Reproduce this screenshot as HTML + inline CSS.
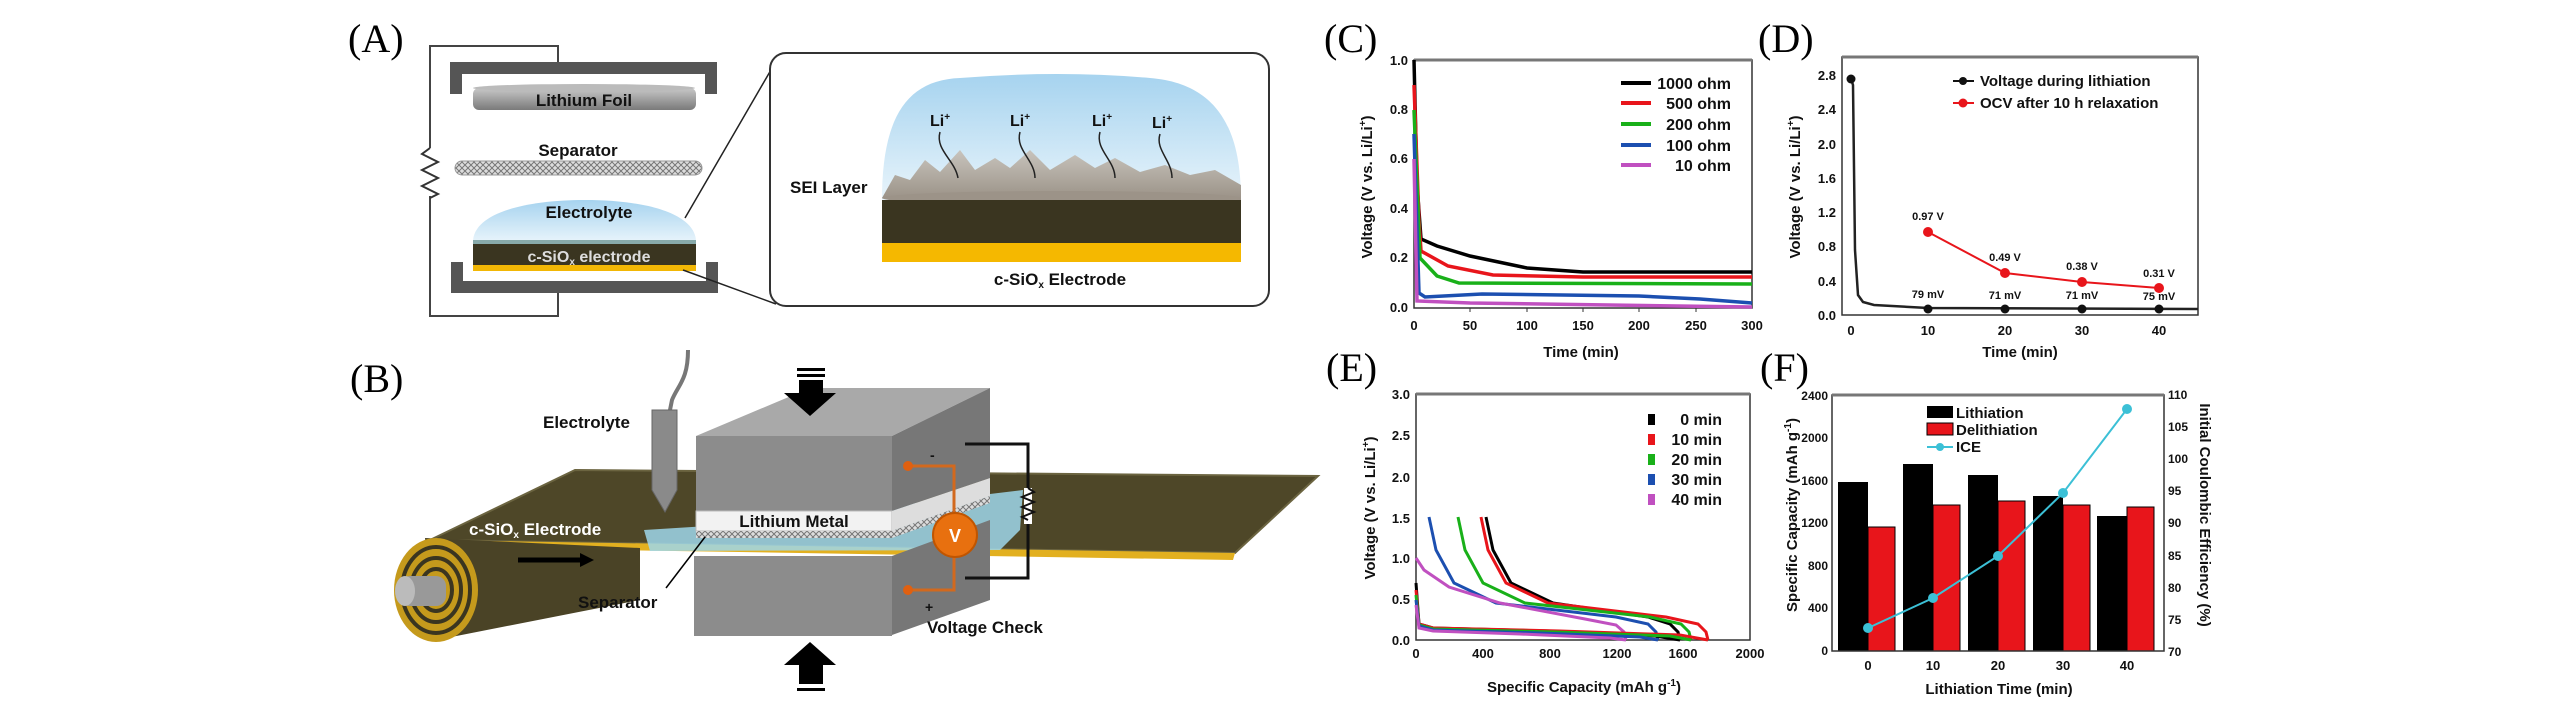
<!DOCTYPE html>
<html><head><meta charset="utf-8"><style>
html,body{margin:0;padding:0;background:#fff;}
svg{display:block;}
.s{font-family:"Liberation Sans Narrow","Liberation Sans",sans-serif;font-weight:bold;}
.p{font-family:"Liberation Serif",serif;font-size:40px;}
</style></head><body>
<svg width="2567" height="709" viewBox="0 0 2567 709" xmlns="http://www.w3.org/2000/svg">
<defs>
<linearGradient id="sky" x1="0" y1="0" x2="0" y2="1"><stop offset="0" stop-color="#a6d3ef"/><stop offset="1" stop-color="#e8f4fb"/></linearGradient>
<linearGradient id="foil" x1="0" y1="0" x2="0" y2="1"><stop offset="0" stop-color="#c8c8c8"/><stop offset="1" stop-color="#7a7a7a"/></linearGradient>
<linearGradient id="sei" x1="0" y1="0" x2="0" y2="1"><stop offset="0" stop-color="#c8c4bd"/><stop offset="1" stop-color="#9a9186"/></linearGradient>
<pattern id="mesh" width="6" height="6" patternUnits="userSpaceOnUse"><rect width="6" height="6" fill="#ddd"/><path d="M0,6 L6,0 M0,0 L6,6" stroke="#777" stroke-width="1"/></pattern>
</defs>

<!-- ===== Panel A ===== -->
<text class="p" x="348" y="52">(A)</text>
<path d="M558,62 V46 H430 V316 H558 V293" fill="none" stroke="#444" stroke-width="2"/>
<rect x="428" y="148" width="6" height="48" fill="#fff"/>
<path d="M430,148 l-8,6 l16,8 l-16,8 l16,8 l-16,8 l16,8 l-8,4" fill="none" stroke="#333" stroke-width="2"/>
<path d="M450,62 H717 V94 H705 V74 H462 V94 H450 Z" fill="#555"/>
<path d="M451,293 H718 V262 H706 V281 H463 V262 H451 Z" fill="#555"/>
<rect x="473" y="88" width="223" height="22" rx="6" fill="url(#foil)"/>
<ellipse cx="584" cy="88" rx="111" ry="4" fill="#bbb"/>
<text class="s" x="584" y="106" font-size="17" text-anchor="middle" fill="#111">Lithium Foil</text>
<text class="s" x="578" y="156" font-size="17" text-anchor="middle" fill="#111">Separator</text>
<rect x="455" y="161" width="247" height="14" rx="7" fill="url(#mesh)" stroke="#999"/>
<path d="M473,242 C473,215 520,200 585,200 C650,200 696,215 696,242 Z" fill="url(#sky)"/>
<text class="s" x="589" y="218" font-size="17" text-anchor="middle" fill="#111">Electrolyte</text>
<rect x="473" y="240" width="223" height="4" fill="#8aa"/>
<rect x="473" y="244" width="223" height="22" fill="#3a3520"/>
<rect x="473" y="265" width="223" height="6" fill="#f2b705"/>
<text class="s" x="589" y="262" font-size="16" text-anchor="middle" fill="#ddd">c-SiO<tspan font-size="10" dy="3">x</tspan><tspan dy="-3"> electrode</tspan></text>
<line x1="685" y1="218" x2="775" y2="63" stroke="#222" stroke-width="1.5"/>
<line x1="683" y1="270" x2="776" y2="304" stroke="#222" stroke-width="1.5"/>
<rect x="770" y="53" width="499" height="253" rx="16" fill="#fff" stroke="#333" stroke-width="2"/>
<path d="M882,200 C882,120 905,80 960,78 Q1060,70 1150,78 C1225,84 1241,140 1241,200 Z" fill="url(#sky)"/>
<path d="M882,198 L895,175 L910,180 L925,160 L940,172 L960,150 L975,170 L995,158 L1010,168 L1030,150 L1050,170 L1075,155 L1095,168 L1115,158 L1140,172 L1165,165 L1190,175 L1215,170 L1241,185 L1241,200 Z" fill="url(#sei)"/>
<ellipse cx="1061" cy="198" rx="179" ry="7" fill="#9c9388"/>
<rect x="882" y="200" width="359" height="43" fill="#3a3520"/>
<rect x="882" y="243" width="359" height="19" fill="#f5b800"/>
<text class="s" x="790" y="193" font-size="17" fill="#111">SEI Layer</text>
<g class="s" font-size="16" fill="#111"><text x="930" y="126">Li<tspan font-size="10" dy="-6">+</tspan></text><text x="1010" y="126">Li<tspan font-size="10" dy="-6">+</tspan></text><text x="1092" y="126">Li<tspan font-size="10" dy="-6">+</tspan></text><text x="1152" y="128">Li<tspan font-size="10" dy="-6">+</tspan></text></g>
<g fill="none" stroke="#222" stroke-width="1.5"><path d="M940,132 C935,150 955,160 958,178"/><path d="M1020,132 C1015,150 1035,160 1035,178"/><path d="M1100,132 C1095,150 1115,160 1115,178"/><path d="M1160,134 C1155,150 1172,160 1172,178"/></g>
<text class="s" x="1060" y="285" font-size="17" text-anchor="middle" fill="#111">c-SiO<tspan font-size="10" dy="3">x</tspan><tspan dy="-3"> Electrode</tspan></text>

<!-- ===== Panel B ===== -->
<text class="p" x="350" y="392">(B)</text>
<polygon points="575,470 1318,476 1235,553 430,540" fill="#4e4728" stroke="#6b6440" stroke-width="2"/>
<polygon points="430,540 1235,553 1233,560 428,547" fill="#e2b020"/>
<!-- roll -->
<polygon points="425,538 640,548 640,600 436,640" fill="#4a4326"/>
<ellipse cx="436" cy="590" rx="42" ry="52" fill="#c59a1c"/>
<ellipse cx="436" cy="590" rx="34" ry="43" fill="none" stroke="#3a3520" stroke-width="4"/>
<ellipse cx="436" cy="590" rx="25" ry="32" fill="none" stroke="#3a3520" stroke-width="4"/>
<ellipse cx="436" cy="590" rx="16" ry="21" fill="none" stroke="#3a3520" stroke-width="4"/>
<rect x="400" y="576" width="46" height="30" rx="10" fill="#999"/>
<ellipse cx="405" cy="591" rx="10" ry="15" fill="#bbb"/>
<path d="M518,560 H582" stroke="#000" stroke-width="5"/><polygon points="580,553 594,560 580,567" fill="#000"/>
<text class="s" x="469" y="535" font-size="17" fill="#fff">c-SiO<tspan font-size="10" dy="3">x</tspan><tspan dy="-3"> Electrode</tspan></text>
<!-- electrolyte film -->
<polygon points="644,530 740,524 1023,490 1020,530 1000,550 650,551" fill="#9fd7ea" opacity="0.85"/>
<!-- pipette -->
<path d="M688,350 C688,380 678,385 672,400 L670,410" fill="none" stroke="#777" stroke-width="4"/>
<path d="M652,410 H677 V490 L665,512 L652,490 Z" fill="#8a8a8a" stroke="#666"/>
<text class="s" x="543" y="428" font-size="17" fill="#111">Electrolyte</text>
<!-- blocks -->
<polygon points="696,436 810,388 990,388 892,436" fill="#a9a9a9"/>
<polygon points="892,436 990,388 990,478 892,511" fill="#777"/>
<rect x="696" y="436" width="196" height="75" fill="#8c8c8c"/>
<rect x="696" y="511" width="196" height="20" fill="#f2f2f2" stroke="#bbb"/>
<polygon points="892,511 990,478 990,496 892,531" fill="#ddd"/>
<rect x="696" y="531" width="196" height="7" fill="url(#mesh)"/>
<polygon points="892,531 990,496 990,503 892,538" fill="url(#mesh)"/>
<text class="s" x="794" y="527" font-size="17" text-anchor="middle" fill="#111">Lithium Metal</text>
<polygon points="892,556 990,520 990,600 892,635" fill="#777"/>
<rect x="694" y="556" width="198" height="80" fill="#8c8c8c"/>
<!-- arrows -->
<rect x="797" y="368" width="28" height="3" fill="#000"/><rect x="797" y="374" width="28" height="3" fill="#000"/>
<rect x="799" y="380" width="24" height="14" fill="#000"/><polygon points="784,393 836,393 810,416" fill="#000"/>
<polygon points="784,665 836,665 810,642" fill="#000"/><rect x="799" y="664" width="24" height="20" fill="#000"/>
<rect x="797" y="688" width="28" height="3" fill="#000"/>
<line x1="666" y1="588" x2="705" y2="537" stroke="#000" stroke-width="1.5"/>
<text class="s" x="578" y="608" font-size="17" fill="#111">Separator</text>
<!-- voltmeter -->
<path d="M908,466 H954 V590 H908" fill="none" stroke="#d2691e" stroke-width="3"/>
<circle cx="908" cy="466" r="5" fill="#e06010"/><circle cx="908" cy="590" r="5" fill="#e06010"/>
<circle cx="955" cy="535" r="22" fill="#e8700f" stroke="#c05500" stroke-width="2"/>
<text class="s" x="955" y="542" font-size="18" text-anchor="middle" fill="#fff">V</text>
<path d="M965,444 H1028 V578 H965" fill="none" stroke="#111" stroke-width="3"/>
<rect x="1024" y="488" width="8" height="36" fill="#fff"/>
<path d="M1028,488 l6,4 l-12,5 l12,5 l-12,5 l12,5 l-12,5 l6,3" fill="none" stroke="#111" stroke-width="2"/>
<text class="s" x="930" y="460" font-size="14" fill="#111">-</text>
<text class="s" x="925" y="612" font-size="14" fill="#111">+</text>
<text class="s" x="927" y="633" font-size="17" fill="#111">Voltage Check</text>

<!-- ===== Panel C ===== -->
<text class="p" x="1324" y="52">(C)</text>
<rect x="1414" y="60" width="338" height="248" fill="none" stroke="#333" stroke-width="1.5"/>
<line x1="1414" y1="60" x2="1752" y2="60" stroke="#777" stroke-width="3"/>
<g class="s" font-size="13" fill="#111" text-anchor="end">
<text x="1408" y="312">0.0</text><text x="1408" y="262">0.2</text><text x="1408" y="213">0.4</text><text x="1408" y="163">0.6</text><text x="1408" y="114">0.8</text><text x="1408" y="65">1.0</text></g>
<g class="s" font-size="13" fill="#111" text-anchor="middle">
<text x="1414" y="330">0</text><text x="1470" y="330">50</text><text x="1527" y="330">100</text><text x="1583" y="330">150</text><text x="1639" y="330">200</text><text x="1696" y="330">250</text><text x="1752" y="330">300</text></g>
<g stroke="#333"><line x1="1470" y1="308" x2="1470" y2="312"/><line x1="1527" y1="308" x2="1527" y2="312"/><line x1="1583" y1="308" x2="1583" y2="312"/><line x1="1639" y1="308" x2="1639" y2="312"/><line x1="1696" y1="308" x2="1696" y2="312"/></g>
<text class="s" x="1581" y="357" font-size="15" text-anchor="middle" fill="#111">Time (min)</text>
<text class="s" transform="translate(1372,187) rotate(-90)" font-size="15" text-anchor="middle" fill="#111">Voltage (V vs. Li/Li<tspan font-size="10" dy="-6">+</tspan><tspan dy="6">)</tspan></text>
<g fill="none" stroke-width="3.5">
<path d="M1414,60 L1417,184 L1421,239 L1437,246 L1470,256 L1527,268 L1583,272 L1752,272" stroke="#000"/>
<path d="M1414,85 L1419,221 L1421,251 L1448,266 L1493,275 L1583,277 L1752,277" stroke="#e8151b"/>
<path d="M1414,110 L1420,258 L1437,276 L1459,283 L1752,284" stroke="#19b019"/>
<path d="M1414,134 L1419,293 L1425,297 L1482,294 L1639,296 L1700,299 L1752,303" stroke="#1c4fb0"/>
<path d="M1414,159 L1417,301 L1470,303 L1752,307" stroke="#c050c0"/>
</g>
<g stroke-width="4"><line x1="1621" y1="83" x2="1651" y2="83" stroke="#000"/><line x1="1621" y1="103" x2="1651" y2="103" stroke="#e8151b"/><line x1="1621" y1="124" x2="1651" y2="124" stroke="#19b019"/><line x1="1621" y1="145" x2="1651" y2="145" stroke="#1c4fb0"/><line x1="1621" y1="165" x2="1651" y2="165" stroke="#c050c0"/></g>
<g class="s" font-size="16" fill="#111" text-anchor="end"><text x="1731" y="89">1000 ohm</text><text x="1731" y="109">500 ohm</text><text x="1731" y="130">200 ohm</text><text x="1731" y="151">100 ohm</text><text x="1731" y="171">10 ohm</text></g>

<!-- ===== Panel D ===== -->
<text class="p" x="1758" y="52">(D)</text>
<rect x="1842" y="57" width="356" height="258" fill="none" stroke="#333" stroke-width="1.5"/>
<line x1="1842" y1="57" x2="2198" y2="57" stroke="#777" stroke-width="3"/>
<g class="s" font-size="13" fill="#111" text-anchor="end">
<text x="1836" y="320">0.0</text><text x="1836" y="286">0.4</text><text x="1836" y="251">0.8</text><text x="1836" y="217">1.2</text><text x="1836" y="183">1.6</text><text x="1836" y="149">2.0</text><text x="1836" y="114">2.4</text><text x="1836" y="80">2.8</text></g>
<g class="s" font-size="13" fill="#111" text-anchor="middle"><text x="1851" y="335">0</text><text x="1928" y="335">10</text><text x="2005" y="335">20</text><text x="2082" y="335">30</text><text x="2159" y="335">40</text></g>
<text class="s" x="2020" y="357" font-size="15" text-anchor="middle" fill="#111">Time (min)</text>
<text class="s" transform="translate(1800,187) rotate(-90)" font-size="15" text-anchor="middle" fill="#111">Voltage (V vs. Li/Li<tspan font-size="10" dy="-6">+</tspan><tspan dy="6">)</tspan></text>
<path d="M1851,79 L1853,85 L1855,250 L1858,295 L1863,302 L1874,305 L1928,308 L2198,309" fill="none" stroke="#222" stroke-width="2.5"/>
<g fill="#111"><circle cx="1851" cy="79" r="4.5"/><circle cx="1928" cy="309" r="4.5"/><circle cx="2005" cy="309" r="4.5"/><circle cx="2082" cy="309" r="4.5"/><circle cx="2159" cy="309" r="4.5"/></g>
<path d="M1928,232 L2005,273 L2082,282 L2159,288" fill="none" stroke="#e8151b" stroke-width="2"/>
<g fill="#e8151b"><circle cx="1928" cy="232" r="5"/><circle cx="2005" cy="273" r="5"/><circle cx="2082" cy="282" r="5"/><circle cx="2159" cy="288" r="5"/></g>
<g class="s" font-size="11" fill="#111" text-anchor="middle"><text x="1928" y="220">0.97 V</text><text x="2005" y="261">0.49 V</text><text x="2082" y="270">0.38 V</text><text x="2159" y="277">0.31 V</text>
<text x="1928" y="298">79 mV</text><text x="2005" y="299">71 mV</text><text x="2082" y="299">71 mV</text><text x="2159" y="300">75 mV</text></g>
<line x1="1953" y1="81" x2="1974" y2="81" stroke="#111" stroke-width="2"/><circle cx="1963" cy="81" r="4" fill="#111"/>
<line x1="1953" y1="103" x2="1974" y2="103" stroke="#e8151b" stroke-width="2"/><circle cx="1963" cy="103" r="4.5" fill="#e8151b"/>
<g class="s" font-size="15" fill="#111"><text x="1980" y="86">Voltage during lithiation</text><text x="1980" y="108">OCV after 10 h relaxation</text></g>

<!-- ===== Panel E ===== -->
<text class="p" x="1326" y="381">(E)</text>
<rect x="1416" y="394" width="334" height="246" fill="none" stroke="#333" stroke-width="1.5"/>
<line x1="1416" y1="394" x2="1750" y2="394" stroke="#777" stroke-width="3"/>
<g class="s" font-size="13" fill="#111" text-anchor="end">
<text x="1410" y="645">0.0</text><text x="1410" y="604">0.5</text><text x="1410" y="563">1.0</text><text x="1410" y="523">1.5</text><text x="1410" y="482">2.0</text><text x="1410" y="440">2.5</text><text x="1410" y="399">3.0</text></g>
<g class="s" font-size="13" fill="#111" text-anchor="middle"><text x="1416" y="658">0</text><text x="1483" y="658">400</text><text x="1550" y="658">800</text><text x="1617" y="658">1200</text><text x="1683" y="658">1600</text><text x="1750" y="658">2000</text></g>
<text class="s" x="1584" y="692" font-size="15" text-anchor="middle" fill="#111">Specific Capacity (mAh g<tspan font-size="10" dy="-6">-1</tspan><tspan dy="6">)</tspan></text>
<text class="s" transform="translate(1375,508) rotate(-90)" font-size="15" text-anchor="middle" fill="#111">Voltage (V vs. Li/Li<tspan font-size="10" dy="-6">+</tspan><tspan dy="6">)</tspan></text>
<g fill="none" stroke-width="3">
<path d="M1486,517 L1493,550 L1511,583 L1553,603 L1648,617 L1670,624 L1678,632 L1680,640" stroke="#000"/>
<path d="M1481,517 L1488,550 L1506,583 L1548,603 L1666,617 L1698,624 L1706,632 L1708,640" stroke="#e8151b"/>
<path d="M1458,517 L1465,550 L1483,583 L1525,603 L1650,617 L1681,624 L1689,632 L1691,640" stroke="#19b019"/>
<path d="M1429,517 L1436,550 L1454,583 L1496,603 L1616,617 L1648,624 L1656,632 L1658,640" stroke="#1c4fb0"/>
<path d="M1416,558 L1424,570 L1449,587 L1500,603 L1585,619 L1616,625 L1624,632 L1626,640" stroke="#c050c0"/>
<path d="M1416,583 L1419,624 L1433,628 L1550,631 L1655,636 L1680,640" stroke="#000"/>
<path d="M1416,590 L1419,624 L1433,628 L1560,631 L1680,635 L1708,640" stroke="#e8151b"/>
<path d="M1416,595 L1419,625 L1433,629 L1555,632 L1670,636 L1691,640" stroke="#19b019"/>
<path d="M1416,600 L1419,626 L1433,630 L1540,633 L1640,637 L1658,640" stroke="#1c4fb0"/>
<path d="M1416,605 L1419,628 L1433,631 L1520,634 L1610,638 L1626,640" stroke="#c050c0"/>
</g>
<g><rect x="1648" y="414" width="7" height="11" fill="#000"/><rect x="1648" y="434" width="7" height="11" fill="#e8151b"/><rect x="1648" y="454" width="7" height="11" fill="#19b019"/><rect x="1648" y="474" width="7" height="11" fill="#1c4fb0"/><rect x="1648" y="494" width="7" height="11" fill="#c050c0"/></g>
<g class="s" font-size="16" fill="#111" text-anchor="end"><text x="1722" y="425">0 min</text><text x="1722" y="445">10 min</text><text x="1722" y="465">20 min</text><text x="1722" y="485">30 min</text><text x="1722" y="505">40 min</text></g>

<!-- ===== Panel F ===== -->
<text class="p" x="1760" y="381">(F)</text>
<g fill="#000"><rect x="1838" y="482" width="30" height="169"/><rect x="1903" y="464" width="30" height="187"/><rect x="1968" y="475" width="30" height="176"/><rect x="2033" y="496" width="30" height="155"/><rect x="2097" y="516" width="30" height="135"/></g>
<g fill="#e8151b" stroke="#000" stroke-width="1"><rect x="1868" y="527" width="27" height="124"/><rect x="1933" y="505" width="27" height="146"/><rect x="1998" y="501" width="27" height="150"/><rect x="2063" y="505" width="27" height="146"/><rect x="2127" y="507" width="27" height="144"/></g>
<rect x="1832" y="395" width="332" height="256" fill="none" stroke="#333" stroke-width="1.5"/>
<line x1="1832" y1="395" x2="2164" y2="395" stroke="#777" stroke-width="3"/>
<path d="M1868,628 L1933,598 L1998,556 L2063,493 L2127,409" fill="none" stroke="#3cc0d6" stroke-width="2"/>
<g fill="#3cc0d6"><circle cx="1868" cy="628" r="5"/><circle cx="1933" cy="598" r="5"/><circle cx="1998" cy="556" r="5"/><circle cx="2063" cy="493" r="5"/><circle cx="2127" cy="409" r="5"/></g>
<g class="s" font-size="12" fill="#111" text-anchor="end"><text x="1828" y="655">0</text><text x="1828" y="612">400</text><text x="1828" y="570">800</text><text x="1828" y="527">1200</text><text x="1828" y="485">1600</text><text x="1828" y="442">2000</text><text x="1828" y="400">2400</text></g>
<g class="s" font-size="12" fill="#111"><text x="2168" y="656">70</text><text x="2168" y="624">75</text><text x="2168" y="592">80</text><text x="2168" y="560">85</text><text x="2168" y="527">90</text><text x="2168" y="495">95</text><text x="2168" y="463">100</text><text x="2168" y="431">105</text><text x="2168" y="399">110</text></g>
<g class="s" font-size="13" fill="#111" text-anchor="middle"><text x="1868" y="670">0</text><text x="1933" y="670">10</text><text x="1998" y="670">20</text><text x="2063" y="670">30</text><text x="2127" y="670">40</text></g>
<text class="s" x="1999" y="694" font-size="15" text-anchor="middle" fill="#111">Lithiation Time (min)</text>
<text class="s" transform="translate(1797,515) rotate(-90)" font-size="15" text-anchor="middle" fill="#111">Specific Capacity (mAh g<tspan font-size="10" dy="-6">-1</tspan><tspan dy="6">)</tspan></text>
<text class="s" transform="translate(2200,515) rotate(90)" font-size="15" text-anchor="middle" fill="#111">Initial Coulombic Efficiency (%)</text>
<rect x="1927" y="406" width="26" height="12" fill="#000"/>
<rect x="1927" y="423" width="26" height="12" fill="#e8151b" stroke="#000"/>
<line x1="1927" y1="447" x2="1953" y2="447" stroke="#3cc0d6" stroke-width="2"/><circle cx="1940" cy="447" r="4" fill="#3cc0d6"/>
<g class="s" font-size="15" fill="#111"><text x="1956" y="418">Lithiation</text><text x="1956" y="435">Delithiation</text><text x="1956" y="452">ICE</text></g>
</svg>
</body></html>
